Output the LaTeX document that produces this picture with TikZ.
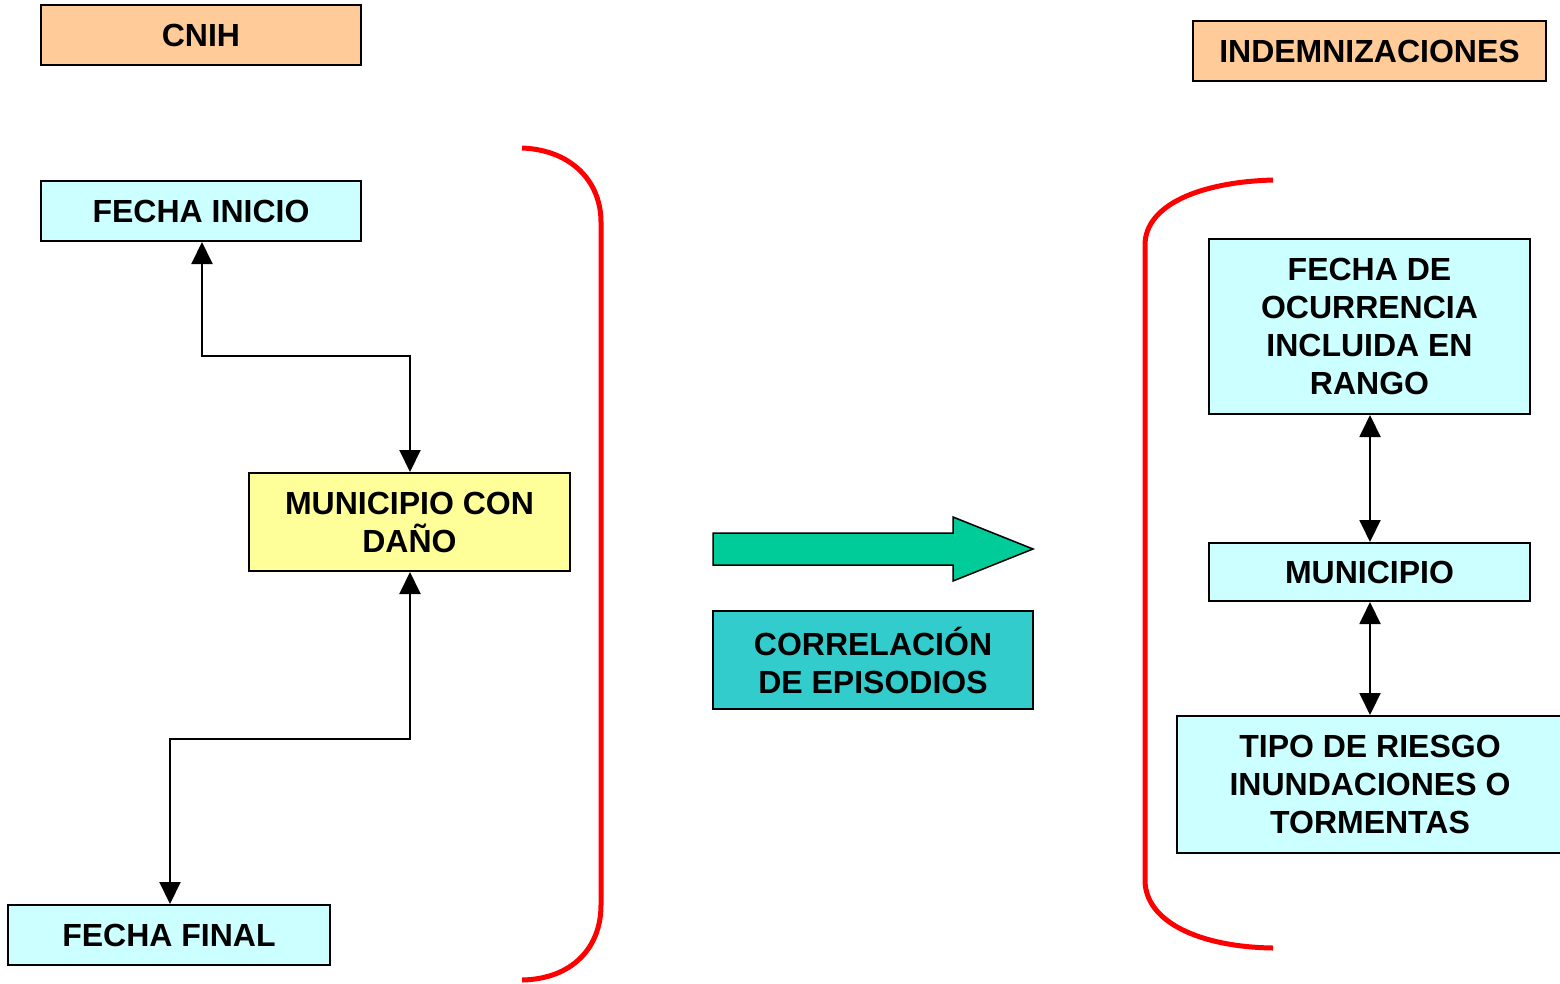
\documentclass[tikz,border=0pt]{standalone}
\usepackage{fontspec}
\setmainfont{Liberation Sans}
\usetikzlibrary{arrows.meta}
\definecolor{lcyan}{HTML}{CCFFFF}
\definecolor{lyellow}{HTML}{FFFF99}
\definecolor{lorange}{HTML}{FFCC99}
\definecolor{teal2}{HTML}{33CCCC}
\definecolor{green2}{HTML}{00CC99}
\tikzset{
  boxbase/.style={draw=black, line width=2pt, rectangle, inner sep=0pt, align=center,
    font=\fontsize{32}{38}\selectfont\bfseries},
  cyanbox/.style={boxbase, fill=lcyan},
  orangebox/.style={boxbase, fill=lorange},
  yellowbox/.style={boxbase, fill=lyellow},
  tealbox/.style={boxbase, fill=teal2},
  link/.style={line width=2pt, {Triangle[width=21pt,length=22pt]}-{Triangle[width=21pt,length=22pt]}},
  bracket/.style={draw=red, line width=5pt},
}
\begin{document}
\begin{tikzpicture}[x=1pt,y=-1pt]
\useasboundingbox (0,0) rectangle (1560,983);
\begin{scope}
\clip (0,0) rectangle (1560,983);
% left side
\node[orangebox, minimum width=320pt, minimum height=60pt] (cnih) at (201,35) {CNIH};
\node[cyanbox, minimum width=320pt, minimum height=60pt] (fini) at (201,211) {FECHA INICIO};
\node[yellowbox, minimum width=321pt, minimum height=98pt] (mcd) at (409.5,522) {MUNICIPIO CON\\DAÑO};
\node[cyanbox, minimum width=322pt, minimum height=60pt] (ffin) at (169,935) {FECHA FINAL};
\coordinate (c1) at (202,356);
\coordinate (c2) at (410,356);
\coordinate (c3) at (410,739);
\coordinate (c4) at (170,739);
\draw[link] (fini.south -| c1) -- (c1) -- (c2) -- (mcd.north -| c2);
\draw[link] (mcd.south -| c3) -- (c3) -- (c4) -- (ffin.north -| c4);
\draw[bracket] (522,148) .. controls (572,150) and (601,182) .. (601,222) -- (601,905) .. controls (601,948) and (572,979) .. (522,980);
% middle
\draw[draw=black, line width=1.5pt, fill=green2] (713,533) -- (953,533) -- (953,517) -- (1033,549) -- (953,581) -- (953,565) -- (713,565) -- cycle;
\node[tealbox, minimum width=320pt, minimum height=98pt] (corr) at (873,660) {CORRELACIÓN\\DE EPISODIOS};
% right side
\node[orangebox, minimum width=353pt, minimum height=60pt] (indem) at (1369.5,51) {INDEMNIZACIONES};
\node[cyanbox, minimum width=321pt, minimum height=175pt] (focc) at (1369.5,326.5) {FECHA DE\\OCURRENCIA\\INCLUIDA EN\\RANGO};
\node[cyanbox, minimum width=321pt, minimum height=58pt] (muni) at (1369.5,572) {MUNICIPIO};
\node[cyanbox, minimum width=386pt, minimum height=137pt] (tipo) at (1370,784.5) {TIPO DE RIESGO\\INUNDACIONES O\\TORMENTAS};
\draw[link] (focc.south -| 1370,0) -- (muni.north -| 1370,0);
\draw[link] (muni.south -| 1370,0) -- (tipo.north -| 1370,0);
\draw[bracket] (1273,180) .. controls (1200,182) and (1145,205) .. (1145,245) -- (1145,880) .. controls (1145,922) and (1200,947) .. (1273,948);
\end{scope}
\end{tikzpicture}
\end{document}
